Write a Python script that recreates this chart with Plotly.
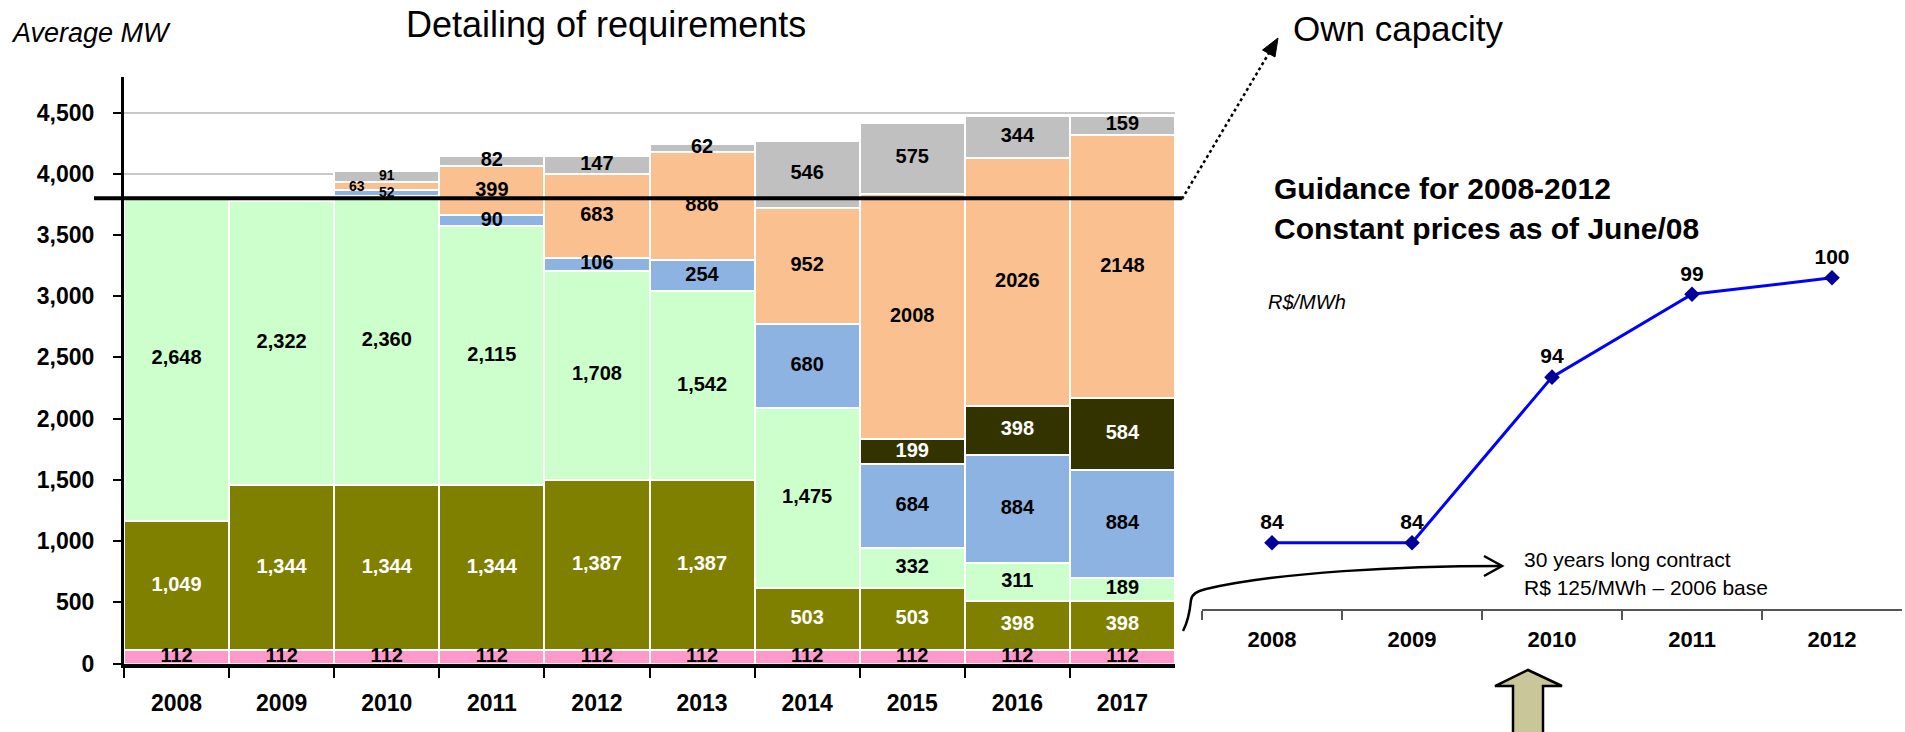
import plotly.graph_objects as go

W, H = 1905, 732
FONT = "Liberation Sans, Arial, sans-serif"

# ---- Requirements, average MW (stack order bottom -> top) ----
years = ["2008", "2009", "2010", "2011", "2012", "2013", "2014", "2015", "2016", "2017"]
pink_mw = [112, 112, 112, 112, 112, 112, 112, 112, 112, 112]
olive_mw = [1049, 1344, 1344, 1344, 1387, 1387, 503, 503, 398, 398]
green_mw = [2648, 2322, 2360, 2115, 1708, 1542, 1475, 332, 311, 189]
blue_mw = [None, None, 52, 90, 106, 254, 680, 684, 884, 884]
dark_mw = [None, None, None, None, None, None, None, 199, 398, 584]
peach_mw = [None, None, 63, 399, 683, 886, 952, 2008, 2026, 2148]
gray_mw = [None, None, 91, 82, 147, 62, 546, 575, 344, 159]
own_capacity = 3800

# ---- Tariff guidance, R$/MWh ----
price_years = ["2008", "2009", "2010", "2011", "2012"]
price = [84, 84, 94, 99, 100]

series = [
    # values, fill, label colour, thousands separator
    (pink_mw, "#FF99CC", "black", True),
    (olive_mw, "#808000", "white", True),
    (green_mw, "#CCFFCC", "black", True),
    (blue_mw, "#8DB3E2", "black", False),
    (dark_mw, "#333300", "white", False),
    (peach_mw, "#FAC090", "black", False),
    (gray_mw, "#C0C0C0", "black", False),
]

# thin slices in 2010 get smaller labels; the orange one sits left of centre
small_labels = {(3, "2010"), (5, "2010"), (6, "2010")}
shifted_labels = {(5, "2010"): -30}


def px(x, y):
    return x / W, 1 - y / H


def path(cmds):
    out = []
    for c in cmds:
        if isinstance(c, str):
            out.append(c)
        else:
            a, b = px(*c)
            out.append(f"{a:.5f},{b:.5f}")
    return " ".join(out)


fig = go.Figure()
annotations = []

base = [0] * len(years)
for si, (vals, color, tcolor, comma) in enumerate(series):
    fig.add_trace(go.Bar(
        x=years, y=vals, marker=dict(color=color, line=dict(color="white", width=2)),
        xaxis="x", yaxis="y", hoverinfo="x+y",
    ))
    lx, ly, lt, ls = [], [], [], []
    for i, (yr, v) in enumerate(zip(years, vals)):
        if v is None:
            continue
        mid = base[i] + v / 2
        base[i] += v
        txt = f"{v:,}" if comma else str(v)
        size = 14 if (si, yr) in small_labels else 20
        if (si, yr) in shifted_labels:
            # category axes take the category index for annotations
            annotations.append(dict(
                x=i, y=mid, xref="x", yref="y", text=txt, showarrow=False,
                xshift=shifted_labels[(si, yr)],
                font=dict(color=tcolor, size=size, family=FONT, weight="bold"),
            ))
            continue
        lx.append(yr)
        ly.append(mid)
        lt.append(txt)
        ls.append(size)
    fig.add_trace(go.Scatter(
        x=lx, y=ly, mode="text", text=lt, textposition="middle center",
        textfont=dict(color=tcolor, size=ls, family=FONT, weight="bold"),
        xaxis="x", yaxis="y", cliponaxis=False, hoverinfo="skip",
    ))

fig.add_trace(go.Scatter(
    x=price_years, y=price, xaxis="x2", yaxis="y2",
    mode="lines+markers+text",
    line=dict(color="#0000FF", width=3),
    marker=dict(symbol="diamond", size=12, color="#000099"),
    text=[str(p) for p in price], textposition="top center",
    textfont=dict(size=21, color="black", family=FONT, weight="bold"),
    cliponaxis=False,
))

shapes = []
# own capacity level
shapes.append(dict(type="line", xref="paper", yref="y",
                   x0=94 / W, x1=1182 / W, y0=own_capacity, y1=own_capacity,
                   line=dict(color="black", width=4)))
# dotted pointer to "Own capacity"
shapes.append(dict(type="path", xref="paper", yref="paper",
                   path=path(["M", (1182, 199), "L", (1269, 53)]),
                   line=dict(color="black", width=2.5, dash="dot")))
shapes.append(dict(type="path", xref="paper", yref="paper",
                   path=path(["M", (1278, 38), "L", (1275, 57), "L", (1262.5, 50), "Z"]),
                   fillcolor="black", line=dict(color="black", width=1)))
# curved bracket arrow towards the contract note
shapes.append(dict(type="path", xref="paper", yref="paper",
                   path=path(["M", (1183, 631), "C", (1188, 622), (1190, 610), (1191, 600),
                              "Q", (1192, 592), (1206, 589),
                              "C", (1280, 572), (1400, 566), (1501, 566)]),
                   line=dict(color="black", width=2.5)))
shapes.append(dict(type="path", xref="paper", yref="paper",
                   path=path(["M", (1484, 556), "L", (1502, 566), "L", (1484, 576)]),
                   line=dict(color="black", width=2.5)))
# block arrow under 2010
shapes.append(dict(type="path", xref="paper", yref="paper",
                   path=path(["M", (1528, 670), "L", (1562, 686), "L", (1543, 686),
                              "L", (1543, 740), "L", (1513, 740), "L", (1513, 686),
                              "L", (1495, 686), "Z"]),
                   fillcolor="#C9C799", line=dict(color="black", width=2.5)))


def note(text, x, y, size, anchor="left", bold=False, italic=False):
    ax, ay = px(x, y)
    annotations.append(dict(
        text=text, x=ax, y=ay, xref="paper", yref="paper", showarrow=False,
        xanchor=anchor, yanchor="middle",
        font=dict(size=size, color="black", family=FONT,
                  weight="bold" if bold else "normal",
                  style="italic" if italic else "normal"),
    ))


note("Average MW", 9, 33, 27, italic=True)
note("Detailing of requirements", 606, 25, 36, anchor="center")
note("Own capacity", 1291, 28, 35)
note("Guidance for 2008-2012", 1272, 188, 30, bold=True)
note("Constant prices as of June/08", 1272, 228, 30, bold=True)
note("R$/MWh", 1266, 302, 20, italic=True)
note("30 years long contract", 1522, 559, 21)
note("R$ 125/MWh \u2013 2006 base", 1522, 587, 21)

fig.update_layout(
    width=W, height=H, autosize=False,
    margin=dict(l=0, r=0, t=0, b=0, pad=0, autoexpand=False),
    paper_bgcolor="white", plot_bgcolor="white",
    barmode="stack", bargap=0, showlegend=False,
    font=dict(family=FONT, color="black"),
    shapes=shapes, annotations=annotations,
    xaxis=dict(domain=[124 / W, 1175 / W], anchor="y", type="category",
               categoryorder="array", categoryarray=years,
               range=[-0.5, len(years) - 0.5], tickangle=0,
               showline=True, linecolor="black", linewidth=4,
               ticks="outside", tickson="boundaries", ticklen=10, tickwidth=2, tickcolor="black",
               tickfont=dict(size=23, family=FONT, weight="bold"), ticklabelstandoff=16,
               showgrid=False, zeroline=False, automargin=False),
    yaxis=dict(domain=[1 - 663.5 / H, 1 - 77 / H], anchor="x", range=[0, 4790],
               dtick=500, tickformat=",", showline=True, linecolor="black", linewidth=3,
               ticks="outside", ticklen=8, tickwidth=2, tickcolor="black",
               showgrid=True, gridcolor="#C8C8C8", gridwidth=2, zeroline=False,
               tickfont=dict(size=23, family=FONT, weight="bold"), ticklabelstandoff=14,
               automargin=False),
    xaxis2=dict(domain=[1202 / W, 1902 / W], anchor="y2", type="category",
                categoryorder="array", categoryarray=price_years,
                range=[-0.5, len(price_years) - 0.5], tickangle=0,
                showline=True, linecolor="#555555", linewidth=2,
                ticks="outside", tickson="boundaries", ticklen=9, tickwidth=2, tickcolor="#555555",
                tickfont=dict(size=22, family=FONT, weight="bold"), ticklabelstandoff=10,
                showgrid=False, zeroline=False, automargin=False),
    yaxis2=dict(domain=[1 - 609 / H, 1 - 211.5 / H], anchor="x2", range=[80, 104],
                visible=False),
)

fig.write_html("out.html")
